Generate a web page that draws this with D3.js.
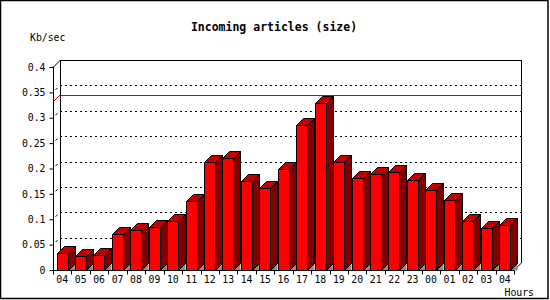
<!DOCTYPE html>
<html>
<head>
<meta charset="utf-8">
<script src="https://cdn.jsdelivr.net/npm/d3@7"></script>
<style>
  body { margin: 0; background: #fff; }
  svg text { font-family: "DejaVu Sans Mono", monospace; }
</style>
</head>
<body>
<svg id="chart" width="550" height="300"></svg>
<script>
// hours shown along the x axis
const hours = ["04","05","06","07","08","09","10","11","12","13","14","15","16",
               "17","18","19","20","21","22","23","00","01","02","03","04"];
// incoming volume in Kb/sec per hour
const kbPerSec = [0.033,0.027,0.029,0.070,0.078,0.084,0.097,0.136,0.212,0.220,0.175,0.161,0.200,
                  0.285,0.330,0.212,0.181,0.190,0.194,0.177,0.157,0.137,0.097,0.082,0.088];
const yTicks = [0, 0.05, 0.1, 0.15, 0.2, 0.25, 0.3, 0.35, 0.4];
const yTickLabels = ["0","0.05","0.1","0.15","0.2","0.25","0.3","0.35","0.4"];

const svg = d3.select("#chart");
const depth = 7;
const plotLeft = 53, plotRight = 514, plotBottom = 270, plotTop = 67;

// x uses a band per hour, index based since "04" shows twice
const x = d3.scaleBand().domain(d3.range(hours.length)).range([plotLeft, plotRight]).padding(0);
const y = d3.scaleLinear().domain([0, 0.4]).range([plotBottom, plotTop]);

// outer frame
svg.append("rect")
  .attr("x", 0.5).attr("y", 0.5).attr("width", 547.5).attr("height", 298)
  .attr("fill", "#fff").attr("stroke", "#000").attr("stroke-width", 1.5);

// title and axis titles
svg.append("text").attr("x", 274).attr("y", 31).attr("text-anchor", "middle")
  .style("font-size", "11.5px").style("font-weight", "bold").text("Incoming articles (size)");
svg.append("text").attr("x", 30).attr("y", 40.5).style("font-size", "9.8px").text("Kb/sec");
svg.append("text").attr("x", 534).attr("y", 295.5).attr("text-anchor", "end")
  .style("font-size", "9.8px").text("Hours");

const g = svg.append("g").attr("shape-rendering", "crispEdges");

// back plane gridlines (dotted)
g.selectAll(".grid")
  .data(yTicks.filter(v => v > 0 && v < 0.4))
  .enter().append("line")
  .attr("x1", plotLeft + depth).attr("x2", plotRight + depth)
  .attr("y1", d => Math.round(y(d)) - depth + 0.5)
  .attr("y2", d => Math.round(y(d)) - depth + 0.5)
  .attr("stroke", "#000").attr("stroke-dasharray", "2,3");

// little depth marks on the left wall
svg.selectAll(".slash")
  .data(yTicks.filter(v => v > 0 && v < 0.4))
  .enter().append("line")
  .attr("x1", plotLeft + 2.5).attr("x2", plotLeft + 4.5)
  .attr("y1", d => y(d) - 2.5).attr("y2", d => y(d) - 4.5)
  .attr("stroke", "#000").attr("stroke-width", 1);

// maximum value line
const maxVal = d3.max(kbPerSec);
const yMax = Math.floor(y(maxVal));
svg.append("line")
  .attr("x1", plotLeft + depth).attr("x2", plotRight + depth)
  .attr("y1", yMax - depth + 0.5).attr("y2", yMax - depth + 0.5)
  .attr("stroke", "#e00000").attr("shape-rendering", "crispEdges");
svg.append("line")
  .attr("x1", plotLeft).attr("y1", yMax)
  .attr("x2", plotLeft + depth).attr("y2", yMax - depth)
  .attr("stroke", "#e00000");

// back plane border
const frame = svg.append("g").attr("fill", "none").attr("stroke", "#000");
frame.append("path")
  .attr("d", `M${plotLeft + depth + 0.5},${plotBottom - depth}V${plotTop - depth + 0.5}H${plotRight + depth + 0.5}V${plotBottom - depth}`)
  .attr("shape-rendering", "crispEdges");
frame.append("line").attr("x1", plotLeft + 0.5).attr("y1", plotTop).attr("x2", plotLeft + depth + 0.5).attr("y2", plotTop - depth);
frame.append("line").attr("x1", plotRight).attr("y1", plotBottom).attr("x2", plotRight + depth + 0.5).attr("y2", plotBottom - depth);

// 3D bars
const bw = x.bandwidth() * 0.6;
const bars = svg.append("g").attr("stroke", "#000").attr("stroke-width", 1).attr("stroke-linejoin", "miter");
kbPerSec.forEach((v, i) => {
  const xl = Math.round(x(i) + x.bandwidth() * 0.19) + 0.5;
  const xr = xl + Math.round(bw);
  const yt = Math.round(y(v)) + 0.5;
  const yb = plotBottom + 0.5;
  // floor shadow
  bars.append("polygon")
    .attr("points", [[xr, yb], [xr + depth, yb - depth], [xr + depth, yb]].join(" "))
    .attr("fill", "#8c8c8c").attr("stroke", "none");
  bars.append("polygon")
    .attr("points", [[xr, yt], [xr + depth, yt - depth], [xr + depth, yb - depth], [xr, yb]].join(" "))
    .attr("fill", "#800000");
  bars.append("polygon")
    .attr("points", [[xl, yt], [xl + depth, yt - depth], [xr + depth, yt - depth], [xr, yt]].join(" "))
    .attr("fill", "#c00000");
  bars.append("rect")
    .attr("x", xl).attr("y", yt).attr("width", xr - xl).attr("height", yb - yt)
    .attr("fill", "#ff0000");
});

// y axis
const yAxis = d3.axisLeft(y).tickValues(yTicks)
  .tickFormat((d, i) => yTickLabels[i]).tickSize(4).tickPadding(4);
const ya = svg.append("g").attr("transform", `translate(${plotLeft + 0.5},0)`).call(yAxis);
ya.select(".domain").attr("d", `M0,${plotTop}V${plotBottom + 0.5}`).attr("stroke", "#000");
ya.selectAll("text").style("font-size", "9.8px").style("font-family", "DejaVu Sans Mono");

// x axis: ticks on band edges, labels centred
const xa = svg.append("g").attr("transform", `translate(0,${plotBottom + 0.5})`);
xa.append("line").attr("x1", plotLeft).attr("x2", plotRight).attr("stroke", "#000");
xa.selectAll(".xt")
  .data(d3.range(hours.length + 1))
  .enter().append("line")
  .attr("x1", i => Math.round(i < hours.length ? x(i) : plotRight) + 0.5)
  .attr("x2", i => Math.round(i < hours.length ? x(i) : plotRight) + 0.5)
  .attr("y1", 0).attr("y2", 4).attr("stroke", "#000");
xa.selectAll(".xl")
  .data(hours)
  .enter().append("text")
  .attr("x", (d, i) => x(i) + x.bandwidth() / 2)
  .attr("y", 12.5)
  .attr("text-anchor", "middle")
  .style("font-size", "9.8px")
  .text(d => d);
</script>
</body>
</html>
